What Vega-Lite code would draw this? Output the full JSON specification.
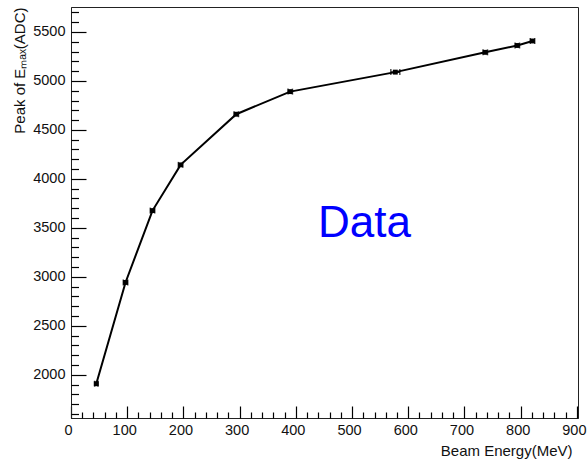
{
  "$schema": "https://vega.github.io/schema/vega-lite/v6.json",
  "width": 507,
  "height": 411,
  "autosize": "none",
  "padding": {"left": 71, "top": 7, "right": 9, "bottom": 44},
  "background": "white",
  "config": {
    "font": "Liberation Sans",
    "view": {"stroke": "#222", "strokeWidth": 1},
    "axis": {
      "grid": false,
      "domainColor": "#222",
      "tickColor": "#000",
      "tickWidth": 1.2,
      "labelFont": "Liberation Sans",
      "labelFontSize": 14.5,
      "labelColor": "#111",
      "titleFont": "Liberation Sans",
      "titleFontSize": 15,
      "titleFontWeight": "normal",
      "titleColor": "#111"
    }
  },
  "datasets": {
    "pts": [
      {"E": 45, "peak": 1908, "Elo": 42, "Ehi": 48},
      {"E": 97, "peak": 2942, "Elo": 93, "Ehi": 101},
      {"E": 145, "peak": 3676, "Elo": 141, "Ehi": 149},
      {"E": 195, "peak": 4143, "Elo": 191, "Ehi": 199},
      {"E": 294, "peak": 4660, "Elo": 290, "Ehi": 298},
      {"E": 390, "peak": 4891, "Elo": 386, "Ehi": 394},
      {"E": 577, "peak": 5090, "Elo": 569, "Ehi": 585},
      {"E": 737, "peak": 5292, "Elo": 733, "Ehi": 741},
      {"E": 794, "peak": 5362, "Elo": 790, "Ehi": 798},
      {"E": 821, "peak": 5408, "Elo": 817, "Ehi": 825}
    ],
    "ann": [{"label": "Data", "E": 522, "peak": 3411}]
  },
  "layer": [
    {
      "data": {"name": "pts"},
      "mark": {"type": "line", "color": "black", "strokeWidth": 2},
      "encoding": {
        "x": {
          "field": "E", "type": "quantitative",
          "scale": {"domain": [0, 902], "nice": false, "zero": false},
          "axis": {
            "orient": "bottom",
            "values": [0, 100, 200, 300, 400, 500, 600, 700, 800, 900],
            "format": "d",
            "ticks": false,
            "labelPadding": 5,
            "labelOffset": -3,
            "labelFlush": false,
            "labelOverlap": false,
            "title": "Beam Energy(MeV)",
            "titleAnchor": "end",
            "titleAlign": "right",
            "titleX": 501,
            "titlePadding": 7
          }
        },
        "y": {
          "field": "peak", "type": "quantitative",
          "scale": {"domain": [1558, 5755], "nice": false, "zero": false},
          "axis": {
            "orient": "left",
            "values": [2000, 2500, 3000, 3500, 4000, 4500, 5000, 5500],
            "format": "d",
            "ticks": false,
            "labelPadding": 6,
            "labelFlush": false,
            "labelOverlap": false,
            "title": "Peak of Eₘₐₓ(ADC)",
            "titleAnchor": "end",
            "titlePadding": 5
          }
        }
      }
    },
    {
      "data": {"name": "pts"},
      "mark": {"type": "point", "opacity": 0},
      "encoding": {
        "x": {
          "field": "E", "type": "quantitative",
          "axis": {
            "orient": "bottom",
            "offset": -12,
            "values": [0, 100, 200, 300, 400, 500, 600, 700, 800, 900],
            "tickSize": 12,
            "labels": false,
            "domain": false,
            "title": null
          }
        },
        "y": {
          "field": "peak", "type": "quantitative",
          "axis": {
            "orient": "left",
            "offset": -15,
            "values": [2000, 2500, 3000, 3500, 4000, 4500, 5000, 5500],
            "tickSize": 15,
            "labels": false,
            "domain": false,
            "title": null
          }
        }
      }
    },
    {
      "data": {"name": "pts"},
      "mark": {"type": "point", "opacity": 0},
      "encoding": {
        "x": {
          "field": "E", "type": "quantitative",
          "axis": {
            "orient": "bottom",
            "offset": -6,
            "values": [20, 40, 60, 80, 120, 140, 160, 180, 220, 240, 260, 280, 320, 340, 360, 380, 420, 440, 460, 480, 520, 540, 560, 580, 620, 640, 660, 680, 720, 740, 760, 780, 820, 840, 860, 880],
            "tickSize": 6,
            "labels": false,
            "domain": false,
            "title": null
          }
        },
        "y": {
          "field": "peak", "type": "quantitative",
          "axis": {
            "orient": "left",
            "offset": -7.5,
            "values": [1600, 1700, 1800, 1900, 2100, 2200, 2300, 2400, 2600, 2700, 2800, 2900, 3100, 3200, 3300, 3400, 3600, 3700, 3800, 3900, 4100, 4200, 4300, 4400, 4600, 4700, 4800, 4900, 5100, 5200, 5300, 5400, 5600, 5700],
            "tickSize": 7.5,
            "labels": false,
            "domain": false,
            "title": null
          }
        }
      }
    },
    {
      "data": {"name": "pts"},
      "mark": {"type": "rule", "color": "black", "strokeWidth": 1.5},
      "encoding": {
        "x": {"field": "Elo", "type": "quantitative", "axis": null},
        "x2": {"field": "Ehi"},
        "y": {"field": "peak", "type": "quantitative", "axis": null}
      }
    },
    {
      "data": {"name": "pts"},
      "mark": {"type": "tick", "orient": "vertical", "color": "black", "size": 6, "thickness": 1.5},
      "encoding": {
        "x": {"field": "Elo", "type": "quantitative", "axis": null},
        "y": {"field": "peak", "type": "quantitative", "axis": null}
      }
    },
    {
      "data": {"name": "pts"},
      "mark": {"type": "tick", "orient": "vertical", "color": "black", "size": 6, "thickness": 1.5},
      "encoding": {
        "x": {"field": "Ehi", "type": "quantitative", "axis": null},
        "y": {"field": "peak", "type": "quantitative", "axis": null}
      }
    },
    {
      "data": {"name": "pts"},
      "mark": {"type": "point", "shape": "square", "filled": true, "color": "black", "size": 24, "opacity": 1},
      "encoding": {
        "x": {"field": "E", "type": "quantitative", "axis": null},
        "y": {"field": "peak", "type": "quantitative", "axis": null}
      }
    },
    {
      "data": {"name": "ann"},
      "mark": {"type": "text", "font": "Liberation Sans", "fontSize": 44, "color": "#0000ff", "align": "center", "baseline": "alphabetic"},
      "encoding": {
        "x": {"field": "E", "type": "quantitative", "axis": null},
        "y": {"field": "peak", "type": "quantitative", "axis": null},
        "text": {"field": "label"}
      }
    }
  ],
  "resolve": {"axis": {"x": "independent", "y": "independent"}}
}
